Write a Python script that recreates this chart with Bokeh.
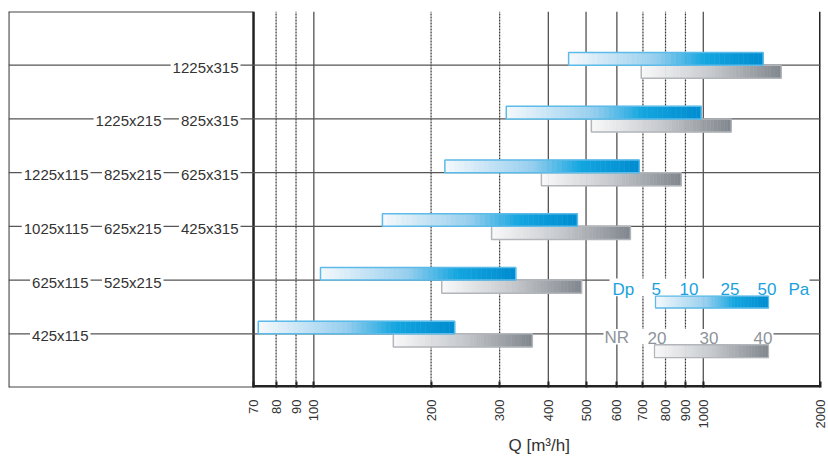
import math
import numpy as np
from bokeh.plotting import figure
from bokeh.models import (Range1d, FixedTicker, PrintfTickFormatter, ColumnDataSource,
                          LinearScale, Title)
from bokeh.embed import file_html
from bokeh.resources import INLINE
from bokeh.core.properties import value

# ---------------- data ----------------
row_pos = [6, 5, 4, 3, 2, 1]                 # rows, top to bottom
dp_lo = [451, 312, 217, 150, 104, 72]        # Dp 5 Pa flow  [m3/h]
dp_hi = [1425, 988, 685, 475, 330, 230]      # Dp 50 Pa flow [m3/h]
nr_lo = [693, 516, 384, 286, 213, 160]       # NR 20 flow
nr_hi = [1585, 1180, 878, 650, 487, 364]     # NR 40 flow

size_labels = ["1225x315",
               "1225x215", "825x315",
               "1225x115", "825x215", "625x315",
               "1025x115", "625x215", "425x315",
               "625x115", "525x215",
               "425x115"]
size_row = [6, 5, 5, 4, 4, 4, 3, 3, 3, 2, 2, 1]
size_col = [3, 2, 3, 1, 2, 3, 1, 2, 3, 1, 2, 1]

x_ticks = [70, 80, 90, 100, 200, 300, 400, 500, 600, 700, 800, 900, 1000, 2000]
dashed_ticks = [80, 90, 200, 300, 700, 800, 900]
solid_ticks = [100, 400, 500, 600, 1000]

dp_legend = ["5", "10", "25", "50"]
nr_legend = ["20", "30", "40"]

FONT = "Liberation Sans"
TXT = "#333333"
BLUE_TXT = "#1ba1dd"
GRAY_TXT = "#8e949b"

BLUE_STOPS = [(0.0, (246, 249, 252)), (0.45, (150, 206, 238)), (0.7, (20, 166, 224)), (1.0, (0, 140, 208))]
GRAY_STOPS = [(0.0, (249, 249, 250)), (0.5, (198, 201, 205)), (1.0, (128, 134, 141))]


def interp_color(t, stops):
    for (t0, c0), (t1, c1) in zip(stops[:-1], stops[1:]):
        if t <= t1:
            f = (t - t0) / (t1 - t0) if t1 > t0 else 0
            c = [int(round(a + (b - a) * f)) for a, b in zip(c0, c1)]
            return "#%02x%02x%02x" % tuple(c)
    return "#%02x%02x%02x" % stops[-1][1]


def grad(lo, hi, y0, y1, stops, n=40, log=True):
    if log:
        e = np.logspace(np.log10(lo), np.log10(hi), n + 1)
    else:
        e = np.linspace(lo, hi, n + 1)
    t = (np.arange(n) + 0.5) / n
    return dict(left=list(e[:-1]), right=list(e[1:]),
                bottom=[y0] * n, top=[y1] * n,
                color=[interp_color(v, stops) for v in t])


def merge(dicts):
    out = {k: [] for k in dicts[0]}
    for d in dicts:
        for k in out:
            out[k] += d[k]
    return out


# ---------------- figure ----------------
p = figure(width=828, height=456, x_axis_type="log", x_range=Range1d(16.44, 2000), y_range=Range1d(0, 7),
           output_backend="svg", toolbar_location=None, y_axis_location=None,
           min_border_left=8, min_border_right=8, min_border_top=11, min_border_bottom=67)
p.extra_x_ranges = {"px": Range1d(8, 820)}      # page-pixel helper range for the label panel & legend
p.extra_x_scales = {"px": LinearScale()}
p.grid.visible = False
p.outline_line_color = None
p.background_fill_color = "white"
p.border_fill_color = "white"

# label-panel frame (left, top, bottom)
p.segment(x0=[8, 8, 8], x1=[8, 253, 253], y0=[0, 7, 0], y1=[7, 7, 0],
          line_color="#444444", line_width=2.2, x_range_name="px")

# vertical grid
p.segment(x0=dashed_ticks, x1=dashed_ticks, y0=[0] * len(dashed_ticks), y1=[7] * len(dashed_ticks),
          line_color="#333333", line_width=1.2, line_dash="2 1")
p.segment(x0=solid_ticks, x1=solid_ticks, y0=[0] * len(solid_ticks), y1=[7] * len(solid_ticks),
          line_color="#444444", line_width=1.2)
p.segment(x0=[70], x1=[70], y0=[0], y1=[7], line_color="#222222", line_width=2.5)
p.segment(x0=[2000], x1=[2000], y0=[0], y1=[7], line_color="#222222", line_width=3)

# row lines
p.segment(x0=[8] * len(row_pos), x1=[820] * len(row_pos), y0=row_pos, y1=row_pos,
          line_color="#555555", line_width=1.2, x_range_name="px")

# row labels
col_right = {1: 90, 2: 163, 3: 240}
p.text(x=[col_right[c] for c in size_col], y=size_row, text=size_labels, x_range_name="px",
       text_align="right", text_baseline="middle", y_offset=2,
       text_font=value(FONT), text_font_size="15px", text_color=TXT,
       background_fill_color="white", padding=2)

# white legend bands
p.quad(left=[609, 603], right=[809, 773], bottom=[1.70, 0.80], top=[2.03, 1.09],
       fill_color="white", line_color=None, x_range_name="px")

# bars
BH_UP, BH_DN = 0.235, 0.245
blue = merge([grad(lo, hi, y, y + BH_UP, BLUE_STOPS) for lo, hi, y in zip(dp_lo, dp_hi, row_pos)])
gray = merge([grad(lo, hi, y - BH_DN, y, GRAY_STOPS) for lo, hi, y in zip(nr_lo, nr_hi, row_pos)])
p.quad(source=ColumnDataSource(gray), left="left", right="right", bottom="bottom", top="top",
       fill_color="color", line_color="color", line_width=0.6)
p.quad(left=nr_lo, right=nr_hi, bottom=[y - BH_DN for y in row_pos], top=row_pos,
       fill_color=None, line_color="#b2b6bb", line_width=1.5)
p.quad(source=ColumnDataSource(blue), left="left", right="right", bottom="bottom", top="top",
       fill_color="color", line_color="color", line_width=0.6)
p.quad(left=dp_lo, right=dp_hi, bottom=row_pos, top=[y + BH_UP for y in row_pos],
       fill_color=None, line_color="#5cbbe8", line_width=1.5)

# legend bars
lb = grad(655, 768, 1.48, 1.70, BLUE_STOPS, log=False)
lg = grad(654, 768, 0.556, 0.796, GRAY_STOPS, log=False)
p.quad(source=ColumnDataSource(lb), left="left", right="right", bottom="bottom", top="top",
       fill_color="color", line_color="color", line_width=0.6, x_range_name="px")
p.quad(source=ColumnDataSource(lg), left="left", right="right", bottom="bottom", top="top",
       fill_color="color", line_color="color", line_width=0.6, x_range_name="px")
p.quad(left=[655, 654], right=[768, 768], bottom=[1.48, 0.556], top=[1.70, 0.796], fill_color=None,
       line_color=["#5cbbe8", "#b2b6bb"], line_width=1.3, x_range_name="px")

# legend texts
p.text(x=[612, 651, 679, 720, 757, 788], y=[1.833] * 6, text=["Dp"] + dp_legend + ["Pa"],
       x_range_name="px", text_align="left", text_baseline="middle", text_font=value(FONT),
       text_font_size="17px", text_color=BLUE_TXT)
p.text(x=[604, 647, 699, 753], y=[0.926] * 4, text=["NR"] + nr_legend,
       x_range_name="px", text_align="left", text_baseline="middle", text_font=value(FONT),
       text_font_size="17px", text_color=GRAY_TXT)

# axis
ax = p.xaxis[0]
ax.ticker = FixedTicker(ticks=x_ticks, minor_ticks=[])
ax.formatter = PrintfTickFormatter(format="%d")
ax.major_label_orientation = math.pi / 2
ax.major_label_text_font = FONT
ax.major_label_text_font_size = "13px"
ax.major_label_text_color = TXT
ax.major_label_standoff = 12
ax.major_tick_in = 6
ax.major_tick_out = 0
ax.major_tick_line_width = 2
ax.major_tick_line_color = "#222222"
ax.minor_tick_line_color = None
ax.axis_line_color = None

# thick axis line under the chart area only
p.segment(x0=[70], x1=[2000], y0=[0], y1=[0], line_color="#222222", line_width=5)

p.add_layout(Title(text="Q [m³/h]", align="left", offset=500, standoff=4,
                   text_font=FONT, text_font_size="17px", text_font_style="normal",
                   text_color=TXT), "below")

open("out.html", "w").write(file_html(p, INLINE))
